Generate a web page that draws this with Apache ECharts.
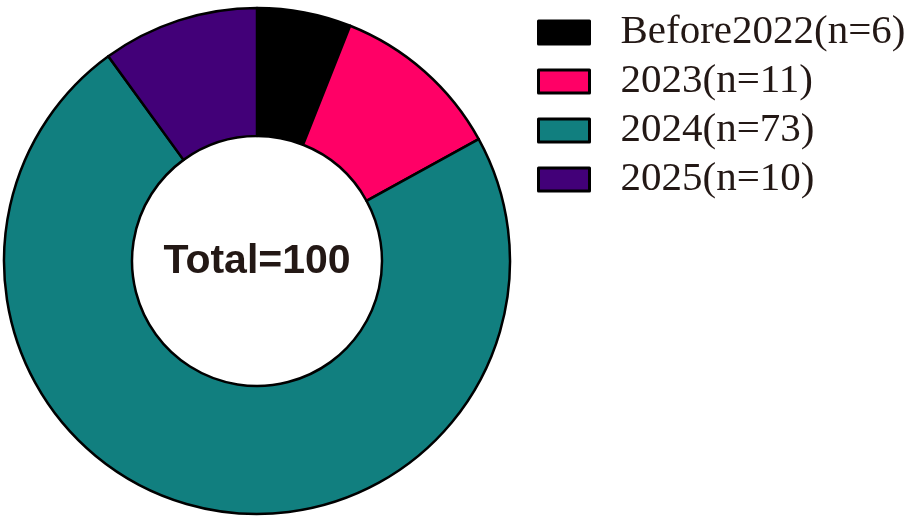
<!DOCTYPE html>
<html>
<head>
<meta charset="utf-8">
<script src="https://cdn.jsdelivr.net/npm/echarts@6/dist/echarts.min.js"></script>
<style>
  html, body { margin: 0; padding: 0; background: #fff; }
  #chart { width: 910px; height: 522px; }
</style>
</head>
<body>
<div id="chart"></div>
<script>
// year groups and counts
const groups = ['Before2022', '2023', '2024', '2025']
const counts = [6, 11, 73, 10]
const colors = ['#000000', '#ff0066', '#117f7f', '#420078']
const total = counts.reduce((a, b) => a + b, 0)

const pieData = groups.map((g, i) => ({
  name: g + '(n=' + counts[i] + ')',
  value: counts[i],
  itemStyle: { color: colors[i] }
}))

const chart = echarts.init(document.getElementById('chart'))
chart.setOption({
  animation: false,
  legend: {
    orient: 'vertical',
    left: 532,
    top: 7,
    itemWidth: 51,
    itemHeight: 23,
    itemGap: 8,
    icon: 'rect',
    itemStyle: {
      borderColor: '#000',
      borderWidth: 3
    },
    textStyle: {
      fontFamily: 'Liberation Serif',
      fontSize: 41,
      lineHeight: 40,
      color: '#231815',
      padding: [0, 0, 0, 26]
    },
    selectedMode: false
  },
  graphic: [{
    type: 'text',
    x: 257,
    y: 262,
    z: 100,
    style: {
      text: 'Total=' + total,
      align: 'center',
      verticalAlign: 'middle',
      fontFamily: 'Liberation Sans',
      fontWeight: 'bold',
      fontSize: 41,
      fill: '#231815'
    }
  }],
  series: [{
    type: 'pie',
    center: [257, 261],
    radius: [125, 253],
    startAngle: 90,
    clockwise: true,
    label: { show: false },
    labelLine: { show: false },
    emphasis: { disabled: true },
    itemStyle: {
      borderColor: '#000',
      borderWidth: 2.5
    },
    data: pieData
  }]
})
</script>
</body>
</html>
